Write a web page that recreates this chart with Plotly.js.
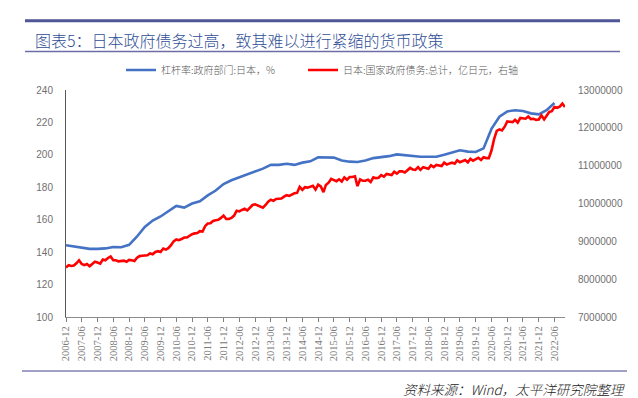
<!DOCTYPE html>
<html>
<head>
<meta charset="utf-8">
<script src="https://cdn.plot.ly/plotly-3.0.1.min.js"></script>
<style>
html,body{margin:0;padding:0;background:#fff;}
#chart{width:638px;height:398px;}
</style>
</head>
<body>
<div id="chart"></div>
<script>
// ---- data ----
const titleText = "图表5：日本政府债务过高，致其难以进行紧缩的货币政策";
const sourceText = "资料来源：Wind，太平洋研究院整理";
const seriesNames = ["杠杆率:政府部门:日本，%", "日本:国家政府债务:总计，亿日元，右轴"];

// first month of both series: 2006-12
const startYear = 2006, startMonth = 12;

// 杠杆率:政府部门:日本 (%), quarterly, 2006-12 .. 2022-06
const leverage = [
  144.3,143.5,142.8,142.0,142.0,142.3,143.2,143.0,144.5,149.5,
  155.5,159.5,162.0,165.0,168.5,167.5,170.0,171.4,175.0,178.0,
  182.0,184.3,186.0,188.0,189.7,191.5,193.8,193.8,194.5,193.8,
  195.2,196.0,198.5,198.6,198.3,196.5,195.8,195.6,196.5,198.0,
  198.6,199.2,200.3,199.8,199.2,198.8,198.8,198.8,200.0,201.6,
  202.8,202.0,201.8,204.0,216.0,223.5,226.8,227.5,227.0,225.6,
  225.0,227.5,232.0
];

// 日本:国家政府债务:总计 (亿日元), monthly, 2006-12 .. 2022-10
const debt = [
  8310000,8370000,8350000,8360000,8420000,8500000,8400000,8370000,8400000,8340000,8400000,8460000,
  8440000,8410000,8520000,8500000,8560000,8600000,8500000,8500000,8470000,8480000,8490000,8460000,
  8510000,8500000,8480000,8560000,8610000,8620000,8620000,8630000,8680000,8660000,8720000,8740000,
  8720000,8810000,8780000,8820000,8900000,9000000,9050000,9030000,9060000,9100000,9100000,9150000,
  9190000,9210000,9220000,9270000,9260000,9400000,9470000,9480000,9540000,9560000,9570000,9620000,
  9680000,9590000,9590000,9620000,9680000,9810000,9790000,9830000,9860000,9820000,9880000,9960000,
  9980000,9950000,9930000,9890000,9960000,10050000,10100000,10070000,10120000,10120000,10130000,10180000,
  10220000,10200000,10240000,10270000,10280000,10440000,10360000,10430000,10420000,10440000,10470000,10370000,
  10500000,10450000,10300000,10490000,10550000,10650000,10630000,10590000,10640000,10580000,10690000,10630000,
  10700000,10700000,10720000,10460000,10640000,10600000,10600000,10630000,10570000,10690000,10670000,10680000,
  10750000,10710000,10780000,10770000,10750000,10840000,10790000,10850000,10850000,10820000,10880000,10940000,
  10900000,10890000,10960000,10890000,10960000,10950000,10920000,11010000,10960000,11020000,11010000,10990000,
  11080000,11030000,11060000,11080000,11050000,11140000,11090000,11120000,11150000,11090000,11180000,11130000,
  11160000,11210000,11150000,11220000,11200000,11200000,11400000,11700000,11920000,11960000,11930000,12030000,
  12170000,12150000,12150000,12210000,12140000,12260000,12260000,12240000,12300000,12230000,12240000,12210000,
  12220000,12330000,12220000,12320000,12420000,12440000,12550000,12530000,12560000,12640000,12550000
];

// ---- month labels ----
function monthDate(offset) {
  const total = startYear * 12 + (startMonth - 1) + offset;
  const y = Math.floor(total / 12), m = total % 12 + 1;
  return y + "-" + (m < 10 ? "0" + m : m) + "-01";
}
const debtDates = debt.map((_, i) => monthDate(i));
const levDates = leverage.map((_, i) => monthDate(i * 3));

const traces = [
  {x: levDates, y: leverage, name: seriesNames[0], type: "scatter", mode: "lines",
   line: {color: "#4472C4", width: 2.6}, yaxis: "y", legend: "legend"},
  {x: debtDates, y: debt, name: seriesNames[1], type: "scatter", mode: "lines",
   line: {color: "#FF0000", width: 2.6}, yaxis: "y2", legend: "legend2"}
];

const px = v => (v - 66) / 499;      // pixel x -> paper
const py = v => (317 - v) / 227;     // pixel y -> paper

const legendFont = {family: "Noto Sans CJK SC", size: 10, weight: 300, color: "#595959"};

const layout = {
  width: 638, height: 398,
  margin: {l: 66, r: 73, t: 90, b: 81},
  paper_bgcolor: "#ffffff", plot_bgcolor: "#ffffff",
  font: {family: "Noto Sans CJK SC, Liberation Sans, sans-serif", color: "#595959"},
  title: {text: titleText, x: 35 / 638, xanchor: "left", xref: "container",
          y: 1 - 41 / 398, yanchor: "middle", yref: "container",
          font: {family: "Noto Sans CJK SC", size: 16, weight: 300, color: "#2F4E96"}},
  showlegend: true,
  legend: {orientation: "h", x: px(121), xanchor: "left", y: py(70), yanchor: "middle",
           font: legendFont, bgcolor: "rgba(0,0,0,0)", itemwidth: 30},
  legend2: {orientation: "h", x: px(303), xanchor: "left", y: py(70), yanchor: "middle",
           font: legendFont, bgcolor: "rgba(0,0,0,0)", itemwidth: 30},
  xaxis: {type: "date", range: [monthDate(0), monthDate(debt.length - 1)],
          tickmode: "linear", tick0: monthDate(0), dtick: "M6", tickformat: "%Y-%m",
          tickangle: -90, ticks: "outside", ticklen: 4, tickcolor: "#808080",
          showline: true, linecolor: "#8c8c8c", linewidth: 1,
          showgrid: false, zeroline: false,
          tickfont: {family: "Liberation Serif", size: 10.5, color: "#7a7a7a"}},
  yaxis: {range: [100, 240], dtick: 20, tick0: 100, showgrid: false, zeroline: false,
          showline: true, linecolor: "#595959", linewidth: 1, ticks: "",
          ticklabelstandoff: 10,
          tickfont: {family: "Liberation Sans", size: 10, color: "#707070"}},
  yaxis2: {range: [7000000, 13000000], dtick: 1000000, tick0: 7000000, overlaying: "y", side: "right",
           showgrid: false, zeroline: false, showline: false, ticks: "", tickformat: "d",
           ticklabelstandoff: 12,
           tickfont: {family: "Liberation Sans", size: 10, color: "#707070"}},
  shapes: [
    {type: "line", xref: "paper", yref: "paper", x0: px(25), x1: px(620), y0: py(20.7), y1: py(20.7),
     line: {color: "#4F5596", width: 3}},
    {type: "line", xref: "paper", yref: "paper", x0: px(25), x1: px(620), y0: py(51.5), y1: py(51.5),
     line: {color: "#6C6CA8", width: 1.3}},
    {type: "line", xref: "paper", yref: "paper", x0: px(22), x1: px(627), y0: py(371), y1: py(371),
     line: {color: "#8080B0", width: 1.3}}
  ],
  annotations: [
    {text: sourceText, xref: "paper", yref: "paper", x: px(627), xanchor: "right",
     y: py(389), yanchor: "middle", showarrow: false,
     font: {family: "Noto Sans CJK SC", size: 13.5, weight: 300, color: "#222222", style: "italic"}}
  ]
};

Plotly.newPlot("chart", traces, layout, {displayModeBar: false, staticPlot: true});
</script>
</body>
</html>
